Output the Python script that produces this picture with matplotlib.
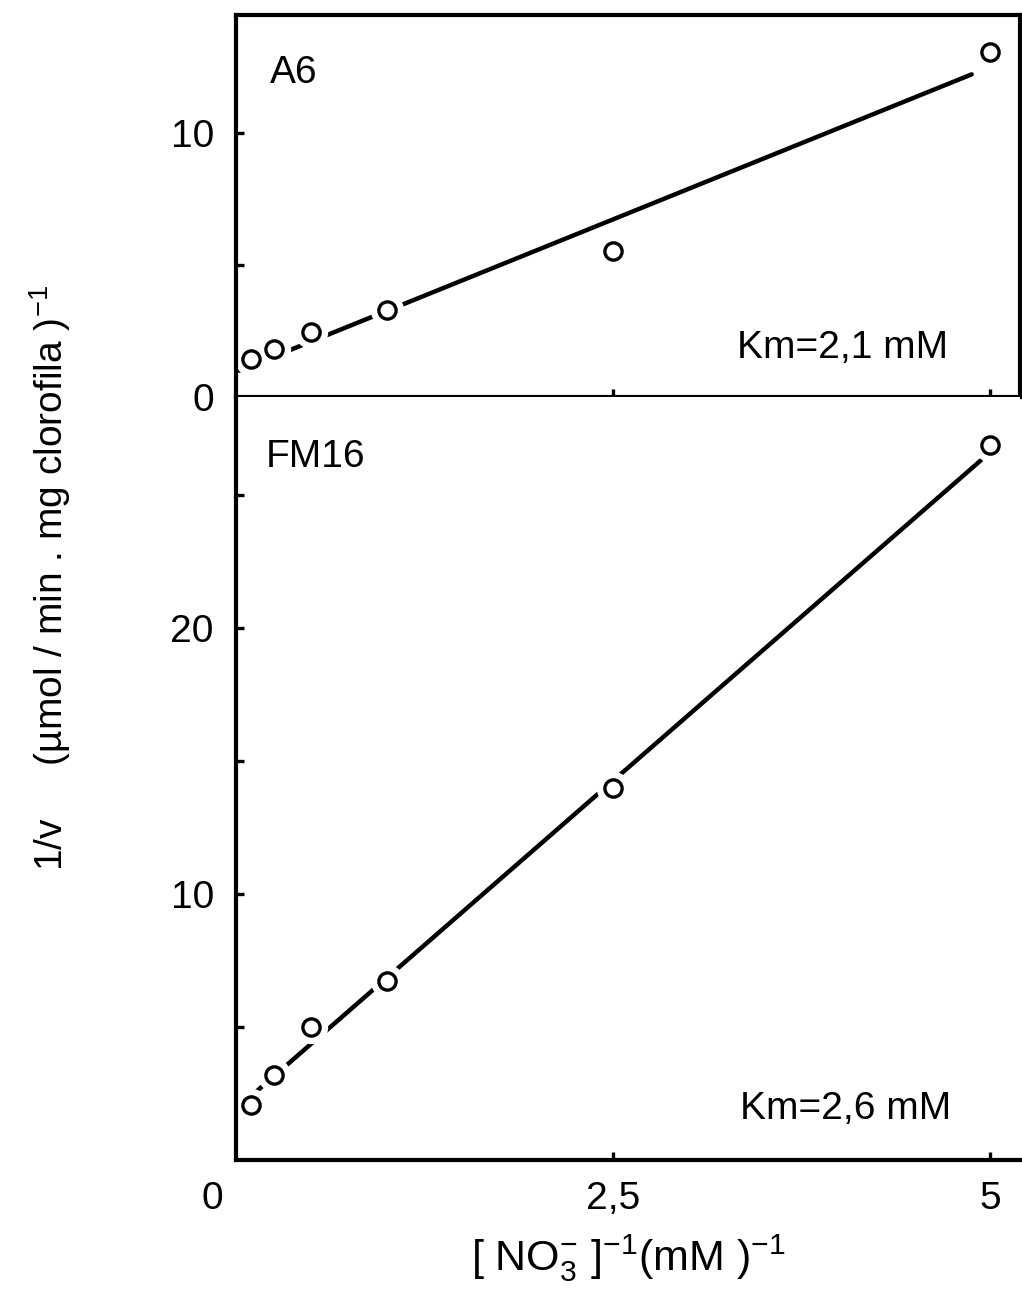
import numpy as np
import matplotlib
matplotlib.use('Agg')
import matplotlib.pyplot as plt

# ── Data ─────────────────────────────────────────────────────────────────────
inv_nitrate = [0.1, 0.25, 0.5, 1.0, 2.5, 5.0]          # [NO3-]^-1  (mM)^-1
inv_v_a6    = [1.44, 1.82, 2.46, 3.30, 5.53, 13.07]    # 1/v, strain A6
inv_v_fm16  = [2.07, 3.20, 5.00, 6.73, 13.98, 26.9]    # 1/v, strain FM16

# Lineweaver-Burk lines as drawn: (intercept, slope) and x extent
fit_a6     = (0.95, 2.31)
fit_fm16   = (1.91, 4.94)
fit_x_a6   = [0.02, 4.88]
fit_x_fm16 = [0.0, 4.94]

strain_names = ['A6', 'FM16']
km_labels    = ['Km=2,1 mM', 'Km=2,6 mM']

plt.rcParams.update({
    'font.family': ['Liberation Sans', 'DejaVu Sans'],
    'font.size': 28,
    'mathtext.default': 'regular',
    'axes.linewidth': 3.0,
    'xtick.direction': 'in', 'ytick.direction': 'in',
    'xtick.major.size': 6, 'ytick.major.size': 6,
    'xtick.major.width': 2.4, 'ytick.major.width': 2.4,
    'xtick.major.pad': 15, 'ytick.major.pad': 16,
})

fig = plt.figure(figsize=(10.22, 12.96), dpi=100)
ax_top = fig.add_axes([0.2309, 0.6937, 0.7671, 0.2947])
ax_bot = fig.add_axes([0.2309, 0.1049, 0.7671, 0.5888])

panels = [
    (ax_top, inv_v_a6, fit_a6, fit_x_a6, (0, 14.47)),
    (ax_bot, inv_v_fm16, fit_fm16, fit_x_fm16, (0, 28.7)),
]

for ax, yvals, (b0, b1), xfit, ylim in panels:
    xf = np.array(xfit)
    ax.plot(xf, b0 + b1 * xf, color='black', lw=3.2,
            solid_capstyle='round', zorder=2)
    # white halo so the line is broken around each point
    ax.plot(inv_nitrate, yvals, linestyle='none', marker='o', ms=24,
            mfc='white', mec='none', zorder=2.2)
    ax.plot(inv_nitrate, yvals, linestyle='none', marker='o', ms=12.4,
            mfc='white', mec='black', mew=2.4, zorder=3, clip_on=False)
    ax.set_xlim(0, 5.2)
    ax.set_ylim(*ylim)

# ── Top panel: A6 ────────────────────────────────────────────────────────────
ax_top.set_yticks([0, 5, 10])
ax_top.set_yticklabels(['0', '', '10'])
ax_top.set_xticks([2.5, 5])
ax_top.set_xticklabels([])
ax_top.text(0.043, 0.822, strain_names[0], transform=ax_top.transAxes,
            fontsize=28, va='baseline', ha='left')
ax_top.text(0.908, 0.102, km_labels[0], transform=ax_top.transAxes,
            va='baseline', ha='right')

# ── Bottom panel: FM16 ───────────────────────────────────────────────────────
ax_bot.spines['top'].set_visible(False)
ax_bot.spines['right'].set_visible(False)
ax_bot.set_yticks([5, 10, 15, 20, 25])
ax_bot.set_yticklabels(['', '10', '', '20', ''])
ax_bot.set_xticks([2.5, 5])
ax_bot.set_xticklabels(['2,5', '5'])
ax_bot.annotate('0', xy=(0, 0), xycoords='axes fraction',
                xytext=(-17, -15), textcoords='offset points',
                ha='center', va='top')
ax_bot.text(0.038, 0.908, strain_names[1], transform=ax_bot.transAxes,
            fontsize=28, va='baseline', ha='left')
ax_bot.text(0.912, 0.054, km_labels[1], transform=ax_bot.transAxes,
            va='baseline', ha='right')
ax_bot.set_xlabel(r'[ NO$_3^{-}$ ]$^{-1}$(mM )$^{-1}$', fontsize=31,
                  labelpad=11)

fig.text(0.049, 0.554, r'1/v     (µmol / min . mg clorofila )$^{-1}$',
         rotation=90, ha='center', va='center')

fig.savefig('out.png', dpi=100)
